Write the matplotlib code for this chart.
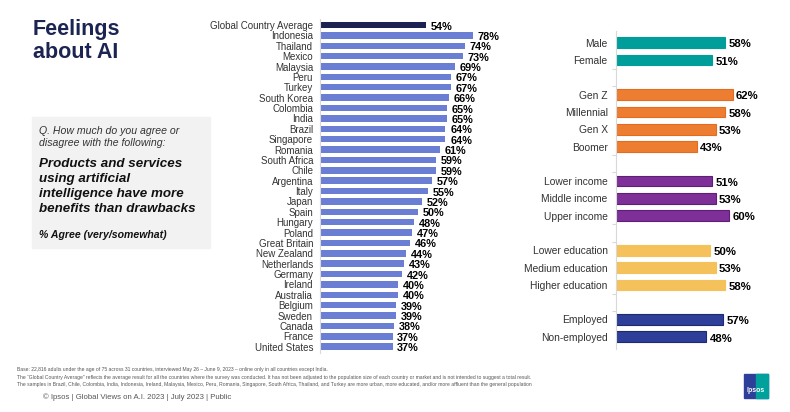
import matplotlib.pyplot as plt
from matplotlib.patches import Rectangle

plt.rcParams['font.family'] = ['Liberation Sans', 'DejaVu Sans']

countries = ["Global Country Average", "Indonesia", "Thailand", "Mexico", "Malaysia", "Peru",
             "Turkey", "South Korea", "Colombia", "India", "Brazil", "Singapore", "Romania",
             "South Africa", "Chile", "Argentina", "Italy", "Japan", "Spain", "Hungary", "Poland",
             "Great Britain", "New Zealand", "Netherlands", "Germany", "Ireland", "Australia",
             "Belgium", "Sweden", "Canada", "France", "United States"]
country_values = [54, 78, 74, 73, 69, 67, 67, 66, 65, 65, 64, 64, 61, 59, 59, 57, 55, 52, 50,
                  48, 47, 46, 44, 43, 42, 40, 40, 39, 39, 38, 37, 37]

gender = ["Male", "Female"]
gender_values = [58, 51]
generation = ["Gen Z", "Millennial", "Gen X", "Boomer"]
generation_values = [62, 58, 53, 43]
income = ["Lower income", "Middle income", "Upper income"]
income_values = [51, 53, 60]
education = ["Lower education", "Medium education", "Higher education"]
education_values = [50, 53, 58]
employment = ["Employed", "Non-employed"]
employment_values = [57, 48]

W, H = 790, 412
fig = plt.figure(figsize=(W / 100, H / 100), dpi=100)


def px_axes(left, top, right, bottom):
    return fig.add_axes([left / W, 1 - bottom / H, (right - left) / W, (bottom - top) / H])


# title and question box
fig.text(33 / W, 1 - 19 / H, "Feelings\nabout AI", fontsize=15.5, fontweight='bold',
         color='#1c2552', va='top', ha='left', linespacing=1.12)
fig.patches.append(Rectangle((32 / W, 1 - 248 / H), 178 / W, 131 / H,
                             transform=fig.transFigure, color='#f2f2f2', zorder=0))
fig.text(39 / W, 1 - 126 / H, "Q. How much do you agree or\ndisagree with the following:",
         fontsize=7.6, style='italic', color='#333333', va='top', linespacing=1.25)
fig.text(39 / W, 1 - 158 / H,
         "Products and services\nusing artificial\nintelligence have more\nbenefits than drawbacks",
         fontsize=9.6, style='italic', fontweight='bold', color='#111111', va='top', linespacing=1.32)
fig.text(39 / W, 1 - 230 / H, "% Agree (very/somewhat)", fontsize=7.6, style='italic',
         fontweight='bold', color='#111111', va='top')

# country chart
ax = px_axes(320, 18.8, 516, 352.9)
rows = list(range(len(countries)))
colors = ['#1a2352'] + ['#6a7fd4'] * (len(countries) - 1)
ax.barh(rows, country_values, height=0.62, color=colors)
for r, v in zip(rows, country_values):
    ax.text(v + 2.4, r + 0.15, f"{v}%", fontsize=7.8, fontweight='bold', va='center', ha='left')
ax.set_xlim(0, 100)
ax.set_ylim(len(countries) - 0.4, -0.6)
ax.set_yticks(rows)
ax.set_yticklabels(countries, fontsize=7.0, color='#333333')
ax.tick_params(axis='y', length=0, pad=5)
ax.set_xticks([])
for s in ['top', 'right', 'bottom']:
    ax.spines[s].set_visible(False)
ax.spines['left'].set_color('#d9d9d9')
ax.patch.set_alpha(0)

# demographics chart
groups = [(gender, gender_values, '#009e9a', '#009e9a'),
          (generation, generation_values, '#ed7d31', '#e46c1e'),
          (income, income_values, '#7e2f98', '#5f1f78'),
          (education, education_values, '#f4c15b', '#f4c15b'),
          (employment, employment_values, '#2e3f9a', '#1d2a70')]
ax2 = px_axes(616, 30.6, 804, 348.9)
labels, pos, gaps = [], [], []
slot = 0
for names, vals, col, edge in groups:
    for n, v in zip(names, vals):
        ax2.barh(slot, v, height=0.62, color=col, edgecolor=edge, linewidth=0.8)
        ax2.text(v + 1.8, slot + 0.1, f"{v}%", fontsize=8.2, fontweight='bold', va='center', ha='left')
        labels.append(n)
        pos.append(slot)
        slot += 1
    gaps += [slot - 0.5, slot + 0.5]
    slot += 1
ax2.set_xlim(0, 100)
ax2.set_ylim(17.7, -0.7)
ax2.set_yticks(pos)
ax2.set_yticklabels(labels, fontsize=7.4, color='#333333')
ax2.set_yticks(gaps[:-2], minor=True)
ax2.tick_params(axis='y', which='major', length=0, pad=6)
ax2.tick_params(axis='y', which='minor', length=3, color='#d9d9d9', width=0.8)
ax2.set_xticks([])
for s in ['top', 'right', 'bottom']:
    ax2.spines[s].set_visible(False)
ax2.spines['left'].set_color('#d9d9d9')
ax2.patch.set_alpha(0)

# footer notes
notes = ["Base: 22,816 adults under the age of 75 across 31 countries, interviewed May 26 \u2013 June 9, 2023 \u2013 online only in all countries except India.",
         "The \u201cGlobal Country Average\u201d reflects the average result for all the countries where the survey was conducted. It has not been adjusted to the population size of each country or market and is not intended to suggest a total result.",
         "The samples in Brazil, Chile, Colombia, India, Indonesia, Ireland, Malaysia, Mexico, Peru, Romania, Singapore, South Africa, Thailand, and Turkey are more urban, more educated, and/or more affluent than the general population"]
for i, line in enumerate(notes):
    fig.text(17 / W, 1 - (370 + i * 7.3) / H, line, fontsize=3.6, color='#555555', va='center')
fig.text(43 / W, 1 - 397 / H, "\u00a9 Ipsos | Global Views on A.I. 2023 | July 2023 | Public",
         fontsize=5.6, color='#555555', va='center')

# logo
fig.patches.append(Rectangle((744 / W, 1 - 398 / H), 24 / W, 24 / H, transform=fig.transFigure,
                             color='#2e3f9a', zorder=1))
fig.patches.append(Rectangle((756 / W, 1 - 398 / H), 12 / W, 24 / H, transform=fig.transFigure,
                             color='#00a19a', zorder=1))
fig.text(756 / W, 1 - 391 / H, "Ipsos", fontsize=5, fontweight='bold', color='white',
         ha='center', va='center')

fig.savefig("out.png", dpi=100, facecolor='white')
